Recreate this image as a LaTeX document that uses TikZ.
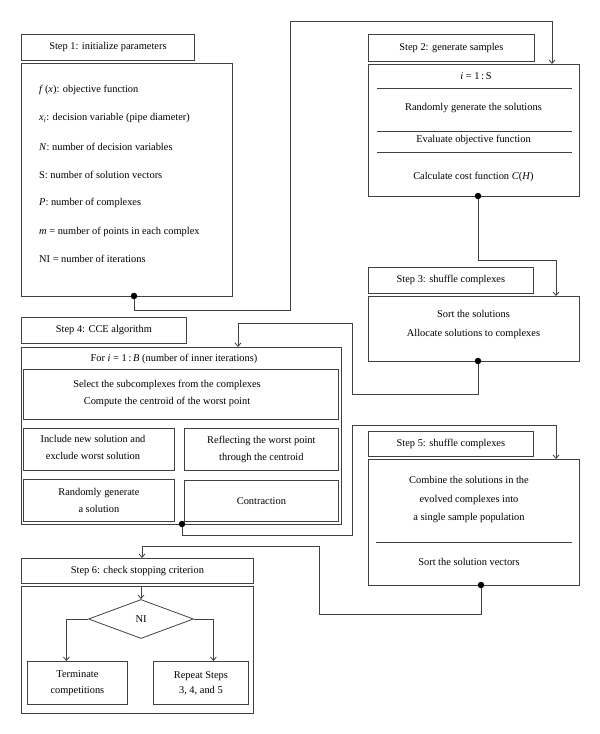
\documentclass[tikz,border=0pt]{standalone}
\usepackage{fontspec}
\setmainfont{Liberation Serif}
\usetikzlibrary{arrows.meta,shapes.geometric,calc}
\newcommand\stepfont{\fontsize{10.4}{17}\selectfont}
\begin{document}
\begin{tikzpicture}[x=1pt,y=-1pt,
        line/.style={draw=black!75,line width=0.8pt},
        box/.style={line,anchor=north west,inner sep=0pt,font=\stepfont,align=center},
        txt/.style={font=\stepfont,inner sep=0pt,align=center},
        arr/.style={line,-{Straight Barb[length=3.5pt,width=6pt]}},
        dot/.style={fill=black,circle,inner sep=0pt,minimum size=6.5pt}]
        \fill[white] (0,0) rectangle (600,734);
        \useasboundingbox (0,0) rectangle (600,734);

        % step 1
        \node[box,minimum width=173pt,minimum height=26pt] (h1) at (21,34) {Step 1: initialize parameters};
        \node[box,minimum width=211pt,minimum height=233pt] (s1) at (21,63) {};
        \node[txt,anchor=west] (p1) at (39,90) {\textit{f}\,(\textit{x}): objective function};
        \node[txt,anchor=west] (p2) at (39,118) {\textit{x}\textsubscript{\textit{i}}: decision variable (pipe diameter)};
        \node[txt,anchor=west] (p3) at (39,147) {\textit{N}: number of decision variables};
        \node[txt,anchor=west] (p4) at (39,175) {S: number of solution vectors};
        \node[txt,anchor=west] (p5) at (39,203) {\textit{P}: number of complexes};
        \node[txt,anchor=west] (p6) at (39,232) {\textit{m} = number of points in each complex};
        \node[txt,anchor=west] (p7) at (39,259) {NI = number of iterations};

        % step 2
        \node[box,minimum width=166pt,minimum height=27pt] (h2) at (368,34) {Step 2: generate samples};
        \node[box,minimum width=211pt,minimum height=132pt] (s2) at (368,64) {};
        \node[txt] (g1) at (476,76) {\textit{i} = 1\,:\,S};
        \draw[line] (377,88) -- (572,88);
        \node[txt] (g2) at (473.5,108) {Randomly generate the solutions};
        \draw[line] (377,131) -- (572,131);
        \node[txt] (g3) at (473.5,140) {Evaluate objective function};
        \draw[line] (377,152) -- (572,152);
        \node[txt] (g4) at (473.5,177) {Calculate cost function \textit{C}(\textit{H})};

        % step 3
        \node[box,minimum width=165pt,minimum height=26pt] (h3) at (368,267) {Step 3: shuffle complexes};
        \node[box,minimum width=211pt,minimum height=65pt] (s3) at (368,296) {};
        \node[txt] (q1) at (473.5,324.5) {Sort the solutions\\[2pt]Allocate solutions to complexes};

        % step 4
        \node[box,minimum width=165pt,minimum height=26pt] (h4) at (21,317) {Step 4: CCE algorithm};
        \node[box,minimum width=320pt,minimum height=177pt] (s4) at (21,347) {};
        \node[txt] (c0) at (174,359) {For \textit{i} = 1\,:\,\textit{B} (number of inner iterations)};
        \node[box,minimum width=315pt,minimum height=50pt] (b1) at (23,369) {};
        \node[txt] (c1) at (167,393.5) {Select the subcomplexes from the complexes\\Compute the centroid of the worst point};
        \node[box,minimum width=151pt,minimum height=42pt] (b2) at (23,428) {};
        \node[txt] (c2) at (93,447.5) {Include new solution and\\exclude worst solution};
        \node[box,minimum width=154pt,minimum height=42pt] (b3) at (184,428) {Reflecting the worst point\\through the centroid};
        \node[box,minimum width=151pt,minimum height=42pt] (b4) at (23,479) {Randomly generate\\a solution};
        \node[box,minimum width=154pt,minimum height=41pt] (b5) at (184,480) {Contraction};

        % step 5
        \node[box,minimum width=165pt,minimum height=25pt] (h5) at (368,431) {Step 5: shuffle complexes};
        \node[box,minimum width=211pt,minimum height=126pt] (s5) at (368,459) {};
        \node[txt] (r1) at (469,500) {Combine the solutions in the\\[2pt]evolved complexes into\\[1pt]a single sample population};
        \draw[line] (376,542) -- (572,542);
        \node[txt] (r2) at (469,562) {Sort the solution vectors};

        % step 6
        \node[box,minimum width=232pt,minimum height=25pt] (h6) at (21,558) {Step 6: check stopping criterion};
        \node[box,minimum width=232pt,minimum height=127pt] (s6) at (21,586) {};
        \node[line,diamond,inner sep=0pt,minimum width=105pt,minimum height=39pt,font=\stepfont] (ni) at (141,619) {NI};
        \node[box,minimum width=100pt,minimum height=43pt,font=\fontsize{10.4}{16}\selectfont] (t1) at (27,661) {Terminate\\competitions};
        \node[box,minimum width=95pt,minimum height=43pt,font=\fontsize{10.4}{15}\selectfont] (t2) at (153,661) {Repeat Steps\\3, 4, and 5};

        % connectors
        \coordinate (in2) at (552,64);
        \coordinate (in3) at (556,296);
        \coordinate (in4) at (238,347);
        \coordinate (in5) at (556,459);
        \coordinate (in6) at (142,558);
        \node[dot] (d1) at (134,296) {};
        \node[dot] (d2) at (478,196) {};
        \node[dot] (d3) at (478,361) {};
        \node[dot] (d4) at (182,524) {};
        \node[dot] (d5) at (481,585) {};
        \draw[arr] (d1) |- (290,310) |- (552,21) -- (in2);
        \draw[arr] (d2) |- (556,260) -- (in3);
        \draw[arr] (d3) |- (352,394) |- (238,323) -- (in4);
        \draw[arr] (d4) |- (352,535) |- (556,425) -- (in5);
        \draw[arr] (d5) |- (319,614) |- (142,546) -- (in6);
        \draw[arr] (s6.north -| ni) -- (ni);
        \draw[arr] (ni.west) -| ($(t1.north)+(-11,0)$);
        \draw[arr] (ni.east) -| ($(t2.north)+(12.5,0)$);
\end{tikzpicture}
\end{document}
